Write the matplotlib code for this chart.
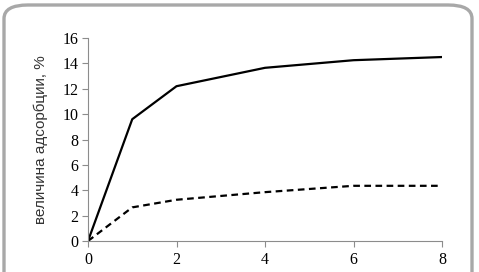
import matplotlib.pyplot as plt
from matplotlib.patches import FancyBboxPatch

# time points and adsorption values
time = [0, 1, 2, 4, 6, 8]
solid_vals = [0, 9.6, 12.2, 13.65, 14.25, 14.5]
dashed_vals = [0, 2.65, 3.25, 3.85, 4.35, 4.35]
yticks = [0, 2, 4, 6, 8, 10, 12, 14, 16]
xticks = [0, 2, 4, 6, 8]
ylabel = 'величина адсорбции, %'

plt.rcParams['font.family'] = 'Liberation Serif'

fig = plt.figure(figsize=(4.79, 2.72), dpi=100)

# rounded grey frame around the screenshot
frame = FancyBboxPatch((4 / 479, -0.3), 468 / 479, 0.3 + 267 / 272,
                       boxstyle='round,pad=0,rounding_size=0.05',
                       transform=fig.transFigure, fill=False,
                       edgecolor='#a8a8a8', linewidth=2.4, clip_on=False)
fig.patches.append(frame)

ax = fig.add_axes([88 / 479, 31 / 272, 354 / 479, 203 / 272])
ax.plot(time, solid_vals, color='black', linewidth=1.6)
ax.plot(time, dashed_vals, color='black', linewidth=1.6, linestyle=(0, (3, 2)))

ax.set_xlim(0, 8)
ax.set_ylim(0, 16)
ax.set_xticks(xticks)
ax.set_yticks(yticks)
for s in ['top', 'right']:
    ax.spines[s].set_visible(False)
for s in ['left', 'bottom']:
    ax.spines[s].set_color('#8c8c8c')
    ax.spines[s].set_linewidth(0.8)
ax.tick_params(colors='#8c8c8c', length=4, width=0.8, labelcolor='black',
               labelsize=11.5)
ax.tick_params(axis='x', pad=4)
ax.tick_params(axis='y', pad=3)

ax.set_ylabel(ylabel, family='Liberation Sans', fontsize=11, color='#333333',
              labelpad=10)

fig.savefig('out.png', dpi=100)
